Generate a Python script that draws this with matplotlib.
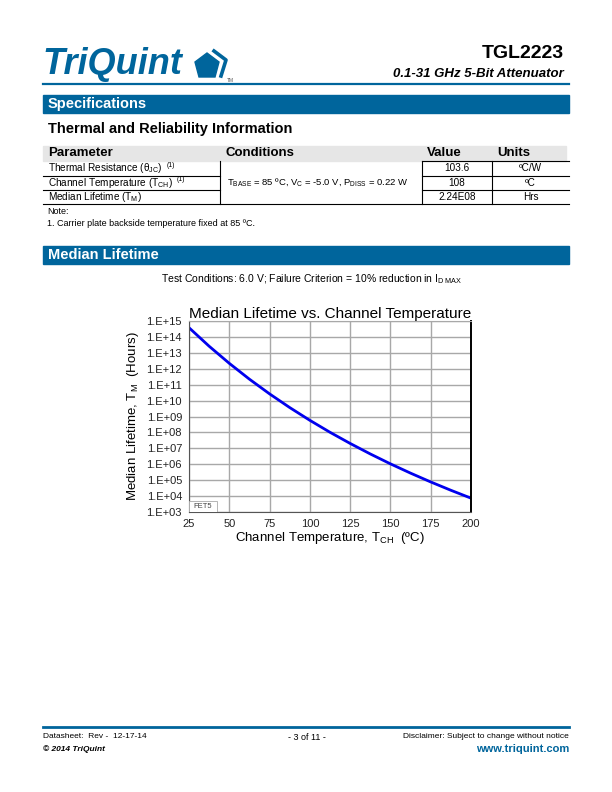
import math
import matplotlib
matplotlib.use("Agg")
import matplotlib.pyplot as plt
from matplotlib.patches import Rectangle, Polygon
from matplotlib.lines import Line2D
from matplotlib.ticker import FixedLocator, FuncFormatter

W, H = 612, 792
BLUE = "#00659c"

# curve (channel temperature in C, lifetime in hours)
temp_c = [25, 37.5, 50, 62.5, 75, 87.5, 100, 112.5, 125, 137.5, 150, 162.5, 175, 187.5, 200]
life_hr = [3.8e14, 2.6e13, 2.19e12, 2.21e11, 2.64e10, 3.65e9, 5.75e8, 1.02e8, 2.03e7,
           4.44e6, 1.06e6, 2.76e5, 7.73e4, 2.32e4, 7.41e3]
x_ticks = [25, 50, 75, 100, 125, 150, 175, 200]
y_exponents = list(range(3, 16))

# table contents
table_header = ["Parameter", "Conditions", "Value", "Units"]
table_params = [r"Thermal Resistance (θ$_{\rm JC}$)",
                r"Channel Temperature (T$_{\rm CH}$)",
                r"Median Lifetime (T$_{\rm M}$)"]
table_notes = ["(1)", "(1)", ""]
table_values = ["103.6", "108", "2.24E08"]
table_units = ["ºC/W", "ºC", "Hrs"]
table_condition = r"T$_{\rm BASE}$ = 85 ºC, V$_{\rm C}$ = -5.0 V, P$_{\rm DISS}$ = 0.22 W"

plt.rcParams["font.family"] = ["Liberation Sans", "DejaVu Sans"]
plt.rcParams["mathtext.fontset"] = "custom"
plt.rcParams["mathtext.rm"] = "Liberation Sans"
plt.rcParams["mathtext.it"] = "Liberation Sans:italic"
plt.rcParams["mathtext.bf"] = "Liberation Sans:bold"

fig = plt.figure(figsize=(W / 100, H / 100), dpi=100)
renderer = fig.canvas.get_renderer()


def fx(x):
    return x / W


def fy(y):
    return 1 - y / H


def txt(x, y, s, **kw):
    kw.setdefault("va", "center")
    kw.setdefault("ha", "left")
    return fig.text(fx(x), fy(y), s, **kw)


def rect(x0, y0, x1, y1, **kw):
    fig.patches.append(Rectangle((fx(x0), fy(y1)), fx(x1) - fx(x0), fy(y0) - fy(y1),
                                 transform=fig.transFigure, **kw))


def hline(x0, x1, y, **kw):
    fig.lines.append(Line2D([fx(x0), fx(x1)], [fy(y), fy(y)], transform=fig.transFigure, **kw))


def vline(x, y0, y1, **kw):
    fig.lines.append(Line2D([fx(x), fx(x)], [fy(y0), fy(y1)], transform=fig.transFigure, **kw))


# ---- page header ----
txt(42, 65, "TriQuint", fontsize=26, fontweight="bold", style="italic", color=BLUE)
pent = [(207, 53), (219, 62), (215, 77), (199, 77), (195, 62)]
fig.patches.append(Polygon([(fx(a), fy(b)) for a, b in pent], closed=True,
                           transform=fig.transFigure, color=BLUE))
fig.lines.append(Line2D([fx(214), fx(226), fx(221)], [fy(51), fy(60), fy(76)],
                        transform=fig.transFigure, color=BLUE, lw=2.6))
txt(227, 80, "TM", fontsize=3.5, color="#555555")
hline(43, 569, 84, color=BLUE, lw=1.6)
txt(564, 53, "TGL2223", fontsize=14, fontweight="bold", ha="right")
txt(564, 74, "0.1-31 GHz 5-Bit Attenuator", fontsize=9.5, fontweight="bold",
    style="italic", ha="right")

# ---- specifications ----
rect(43, 95, 569, 113, color=BLUE)
txt(48, 104, "Specifications", fontsize=10.5, fontweight="bold", color="white")
txt(48, 129, "Thermal and Reliability Information", fontsize=10.5, fontweight="bold")

cols = [43, 220, 422, 492, 569]
rect(43, 146, 566, 161, color="#e6e6e6")
for i, head in enumerate(table_header):
    txt(cols[i] + 5, 153.5, head, fontsize=9.5, fontweight="bold")
rows = [161, 175.5, 189.5, 203.5]
for i in range(3):
    yc = (rows[i] + rows[i + 1]) / 2
    t = txt(48, yc, table_params[i], fontsize=7.2)
    if table_notes[i]:
        bb = t.get_window_extent(renderer)
        txt(bb.x1 + 4, yc - 3, table_notes[i], fontsize=5)
    txt((cols[2] + cols[3]) / 2, yc, table_values[i], fontsize=7.2, ha="center")
    txt((cols[3] + cols[4]) / 2, yc, table_units[i], fontsize=7.2, ha="center")
txt(cols[1] + 7, (rows[1] + rows[2]) / 2, table_condition, fontsize=6.8)
hline(cols[2], cols[4], rows[0], color="black", lw=0.8)
hline(cols[0], cols[1], rows[1], color="black", lw=0.8)
hline(cols[2], cols[4], rows[1], color="black", lw=0.8)
hline(cols[0], cols[1], rows[2], color="black", lw=0.8)
hline(cols[2], cols[4], rows[2], color="black", lw=0.8)
hline(cols[0], cols[4], rows[3], color="black", lw=0.8)
for c in cols[1:4]:
    vline(c, rows[0], rows[3], color="black", lw=0.8)
txt(47, 211, "Note:", fontsize=6.5)
txt(47, 224, "1. Carrier plate backside temperature fixed at 85 ºC.", fontsize=6.5)

# ---- median lifetime ----
rect(43, 246, 569, 264, color=BLUE)
txt(48, 255, "Median Lifetime", fontsize=10.5, fontweight="bold", color="white")
txt(312, 279, r"Test Conditions: 6.0 V; Failure Criterion = 10% reduction in I$_{\rm D\ MAX}$",
    fontsize=7.5, ha="center")

ax = fig.add_axes([fx(189), fy(512), fx(471) - fx(189), (512 - 321) / H])
ax.plot(temp_c, life_hr, color="#0000ee", lw=2)
ax.set_yscale("log")
ax.set_xlim(25, 200)
ax.set_ylim(1e3, 1e15)
ax.xaxis.set_major_locator(FixedLocator(x_ticks))
ax.yaxis.set_major_locator(FixedLocator([10.0 ** e for e in y_exponents]))
ax.yaxis.set_minor_locator(FixedLocator([]))
ax.yaxis.set_major_formatter(FuncFormatter(lambda v, p: "1.E+%02d" % round(math.log10(v))))
ax.grid(True, color="#a8a8a8", lw=1)
ax.tick_params(length=0, labelsize=8, pad=5, colors="#222222")
ax.tick_params(axis="y", labelsize=8, pad=5)
for side in ["left", "bottom"]:
    ax.spines[side].set_color("#555555")
ax.spines["top"].set_color("#a8a8a8")
ax.spines["right"].set_color("black")
ax.spines["right"].set_linewidth(1.4)
ax.set_title("Median Lifetime vs. Channel Temperature", fontsize=11, pad=1)
ax.set_xlabel(r"Channel Temperature, T$_{\rm CH}$  (ºC)", fontsize=9.5, labelpad=1)
ax.set_ylabel(r"Median Lifetime, T$_{\rm M}$  (Hours)", fontsize=9.5, labelpad=4)
ax.add_patch(Rectangle((0, 0), 0.1, 0.055, transform=ax.transAxes, fc="white",
                       ec="#aaaaaa", lw=0.6, zorder=3))
ax.text(0.015, 0.027, "FET5", transform=ax.transAxes, fontsize=5.5, color="#444444",
        va="center", ha="left", zorder=4)

# ---- footer ----
hline(43, 569, 727, color=BLUE, lw=2)
txt(43, 737, "Datasheet:  Rev -  12-17-14", fontsize=6)
txt(43, 749, "© 2014 TriQuint", fontsize=6, fontweight="bold", style="italic")
txt(307, 737, "- 3 of 11 -", fontsize=6.5, ha="center")
txt(569, 737, "Disclaimer: Subject to change without notice", fontsize=6, ha="right")
txt(569, 749, "www.triquint.com", fontsize=8, fontweight="bold", color=BLUE, ha="right")

fig.savefig("out.png", dpi=100)
